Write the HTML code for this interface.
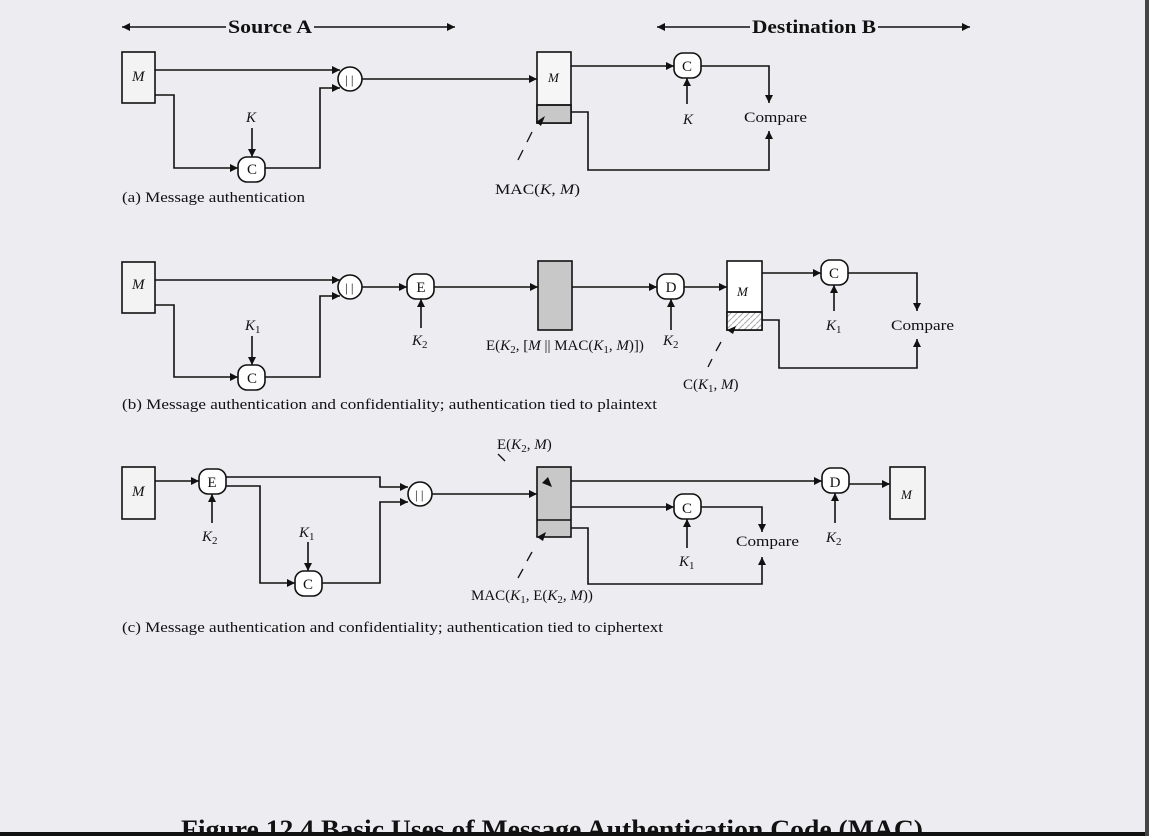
<!DOCTYPE html>
<html><head><meta charset="utf-8"><style>
html,body{margin:0;padding:0;background:#edecf0;overflow:hidden}
svg{display:block}
text{font-family:"Liberation Serif",serif;fill:#111}
.i{font-style:italic}
</style></head><body>
<svg width="1149" height="836" viewBox="0 0 1149 836" xmlns="http://www.w3.org/2000/svg">
<defs>
<marker id="a" viewBox="0 0 10 10" refX="10" refY="5" markerWidth="10" markerHeight="8" markerUnits="userSpaceOnUse" orient="auto-start-reverse"><path d="M0,0 L10,5 L0,10z" fill="#111"/></marker>
<pattern id="h" width="6" height="6" patternUnits="userSpaceOnUse"><rect width="6" height="6" fill="#fff"/><path d="M0,6 L6,0" stroke="#aaa" stroke-width="1"/></pattern>
</defs>
<rect width="1149" height="836" fill="#edecf0"/>
<g stroke="#111" stroke-width="1.6" fill="none">
<line x1="122" y1="27" x2="226" y2="27" marker-start="url(#a)"/>
<line x1="314" y1="27" x2="455" y2="27" marker-end="url(#a)"/>
<line x1="657" y1="27" x2="750" y2="27" marker-start="url(#a)"/>
<line x1="878" y1="27" x2="970" y2="27" marker-end="url(#a)"/>

<!-- (a) -->
<rect x="122" y="52" width="33" height="51" fill="#f3f3f3"/>
<line x1="155" y1="70" x2="340" y2="70" marker-end="url(#a)"/>
<polyline points="155,95 174,95 174,168 238,168" marker-end="url(#a)"/>
<line x1="252" y1="128" x2="252" y2="157" marker-end="url(#a)"/>
<rect x="238" y="157" width="27" height="25" rx="9" fill="#fff"/>
<polyline points="265,168 320,168 320,88 340,88" marker-end="url(#a)"/>
<circle cx="350" cy="79" r="12" fill="#fff"/>
<line x1="362" y1="79" x2="537" y2="79" marker-end="url(#a)"/>
<rect x="537" y="52" width="34" height="71" fill="#f6f6f6"/>
<rect x="537" y="105" width="34" height="18" fill="#c8c8c8"/>
<line x1="537" y1="105" x2="571" y2="105"/>
<line x1="571" y1="66" x2="674" y2="66" marker-end="url(#a)"/>
<rect x="674" y="53" width="27" height="25" rx="9" fill="#fff"/>
<line x1="687" y1="104" x2="687" y2="78" marker-end="url(#a)"/>
<polyline points="701,66 769,66 769,103" marker-end="url(#a)"/>
<polyline points="571,112 588,112 588,170 769,170 769,131" marker-end="url(#a)"/>
<line x1="518" y1="160" x2="523" y2="150" stroke-width="1.3"/>
<line x1="527" y1="142" x2="532" y2="132" stroke-width="1.3"/>
<path d="M536,122 L545,116 L541,126z" fill="#111" stroke="none"/>

<!-- (b) -->
<rect x="122" y="262" width="33" height="51" fill="#f3f3f3"/>
<line x1="155" y1="280" x2="340" y2="280" marker-end="url(#a)"/>
<polyline points="155,305 174,305 174,377 238,377" marker-end="url(#a)"/>
<line x1="252" y1="336" x2="252" y2="365" marker-end="url(#a)"/>
<rect x="238" y="365" width="27" height="25" rx="9" fill="#fff"/>
<polyline points="265,377 320,377 320,296 340,296" marker-end="url(#a)"/>
<circle cx="350" cy="287" r="12" fill="#fff"/>
<line x1="362" y1="287" x2="407" y2="287" marker-end="url(#a)"/>
<rect x="407" y="274" width="27" height="25" rx="9" fill="#fff"/>
<line x1="421" y1="328" x2="421" y2="299" marker-end="url(#a)"/>
<line x1="434" y1="287" x2="538" y2="287" marker-end="url(#a)"/>
<rect x="538" y="261" width="34" height="69" fill="#c8c8c8"/>
<line x1="572" y1="287" x2="657" y2="287" marker-end="url(#a)"/>
<rect x="657" y="274" width="27" height="25" rx="9" fill="#fff"/>
<line x1="671" y1="330" x2="671" y2="299" marker-end="url(#a)"/>
<line x1="684" y1="287" x2="727" y2="287" marker-end="url(#a)"/>
<rect x="727" y="261" width="35" height="69" fill="#fff"/>
<rect x="727" y="312" width="35" height="18" fill="url(#h)"/>
<line x1="727" y1="312" x2="762" y2="312"/>
<line x1="762" y1="273" x2="821" y2="273" marker-end="url(#a)"/>
<rect x="821" y="260" width="27" height="25" rx="9" fill="#fff"/>
<line x1="834" y1="311" x2="834" y2="285" marker-end="url(#a)"/>
<polyline points="848,273 917,273 917,311" marker-end="url(#a)"/>
<polyline points="762,320 779,320 779,368 917,368 917,339" marker-end="url(#a)"/>
<line x1="708" y1="367" x2="712" y2="359" stroke-width="1.3"/>
<line x1="716" y1="351" x2="721" y2="342" stroke-width="1.3"/>
<path d="M727,330 L736,326 L733,334z" fill="#111" stroke="none"/>

<!-- (c) -->
<rect x="122" y="467" width="33" height="52" fill="#f3f3f3"/>
<line x1="155" y1="481" x2="199" y2="481" marker-end="url(#a)"/>
<rect x="199" y="469" width="27" height="25" rx="9" fill="#fff"/>
<line x1="212" y1="523" x2="212" y2="494" marker-end="url(#a)"/>
<polyline points="226,477 380,477 380,487 408,487" marker-end="url(#a)"/>
<polyline points="226,486 260,486 260,583 295,583" marker-end="url(#a)"/>
<line x1="308" y1="542" x2="308" y2="571" marker-end="url(#a)"/>
<rect x="295" y="571" width="27" height="25" rx="9" fill="#fff"/>
<polyline points="322,583 380,583 380,502 408,502" marker-end="url(#a)"/>
<circle cx="420" cy="494" r="12" fill="#fff"/>
<line x1="432" y1="494" x2="537" y2="494" marker-end="url(#a)"/>
<rect x="537" y="467" width="34" height="70" fill="#c8c8c8"/>
<line x1="537" y1="520" x2="571" y2="520"/>
<line x1="571" y1="481" x2="822" y2="481" marker-end="url(#a)"/>
<rect x="822" y="468" width="27" height="25" rx="9" fill="#fff"/>
<line x1="835" y1="523" x2="835" y2="493" marker-end="url(#a)"/>
<line x1="849" y1="484" x2="890" y2="484" marker-end="url(#a)"/>
<rect x="890" y="467" width="35" height="52" fill="#f3f3f3"/>
<line x1="571" y1="507" x2="674" y2="507" marker-end="url(#a)"/>
<rect x="674" y="494" width="27" height="25" rx="9" fill="#fff"/>
<line x1="687" y1="548" x2="687" y2="519" marker-end="url(#a)"/>
<polyline points="701,507 762,507 762,532" marker-end="url(#a)"/>
<polyline points="571,528 588,528 588,584 762,584 762,557" marker-end="url(#a)"/>
<line x1="498" y1="454" x2="505" y2="461" stroke-width="1.3"/>
<path d="M552,487 L542,483 L548,477z" fill="#111" stroke="none"/>
<line x1="518" y1="578" x2="523" y2="569" stroke-width="1.3"/>
<line x1="527" y1="561" x2="532" y2="552" stroke-width="1.3"/>
<path d="M537,537 L546,532 L543,541z" fill="#111" stroke="none"/>
</g>

<text x="228" y="33" font-size="19" font-weight="bold" textLength="84" lengthAdjust="spacingAndGlyphs">Source A</text>
<text x="752" y="33" font-size="19" font-weight="bold" textLength="124" lengthAdjust="spacingAndGlyphs">Destination B</text>

<g font-size="15">
<!-- (a) -->
<text x="132" y="81" class="i">M</text>
<text x="252" y="174" text-anchor="middle">C</text>
<text x="246" y="122" class="i">K</text>
<text x="345" y="84" font-size="13">| |</text>
<text x="548" y="82" class="i" font-size="13">M</text>
<text x="687" y="71" text-anchor="middle">C</text>
<text x="683" y="124" class="i">K</text>
<text x="744" y="122" textLength="63" lengthAdjust="spacingAndGlyphs">Compare</text>
<text x="495" y="194" textLength="85" lengthAdjust="spacingAndGlyphs">MAC(<tspan class="i">K</tspan>, <tspan class="i">M</tspan>)</text>
<text x="122" y="202" textLength="183" lengthAdjust="spacingAndGlyphs">(a) Message authentication</text>

<!-- (b) -->
<text x="132" y="289" class="i">M</text>
<text x="245" y="330" class="i">K<tspan font-size="11" dy="3" font-style="normal">1</tspan></text>
<text x="252" y="383" text-anchor="middle">C</text>
<text x="345" y="292" font-size="13">| |</text>
<text x="421" y="292" text-anchor="middle">E</text>
<text x="412" y="345" class="i">K<tspan font-size="11" dy="3" font-style="normal">2</tspan></text>
<text x="671" y="292" text-anchor="middle">D</text>
<text x="663" y="345" class="i">K<tspan font-size="11" dy="3" font-style="normal">2</tspan></text>
<text x="486" y="350">E(<tspan class="i">K</tspan><tspan font-size="11" dy="3">2</tspan><tspan dy="-3">, [</tspan><tspan class="i">M</tspan> || MAC(<tspan class="i">K</tspan><tspan font-size="11" dy="3">1</tspan><tspan dy="-3">, </tspan><tspan class="i">M</tspan>)])</text>
<text x="737" y="296" class="i" font-size="13">M</text>
<text x="834" y="278" text-anchor="middle">C</text>
<text x="826" y="330" class="i">K<tspan font-size="11" dy="3" font-style="normal">1</tspan></text>
<text x="891" y="330" textLength="63" lengthAdjust="spacingAndGlyphs">Compare</text>
<text x="683" y="389">C(<tspan class="i">K</tspan><tspan font-size="11" dy="3">1</tspan><tspan dy="-3">, </tspan><tspan class="i">M</tspan>)</text>
<text x="122" y="409" textLength="535" lengthAdjust="spacingAndGlyphs">(b) Message authentication and confidentiality; authentication tied to plaintext</text>

<!-- (c) -->
<text x="132" y="496" class="i">M</text>
<text x="212" y="487" text-anchor="middle">E</text>
<text x="202" y="541" class="i">K<tspan font-size="11" dy="3" font-style="normal">2</tspan></text>
<text x="299" y="537" class="i">K<tspan font-size="11" dy="3" font-style="normal">1</tspan></text>
<text x="308" y="589" text-anchor="middle">C</text>
<text x="415" y="499" font-size="13">| |</text>
<text x="497" y="449">E(<tspan class="i">K</tspan><tspan font-size="11" dy="3">2</tspan><tspan dy="-3">, </tspan><tspan class="i">M</tspan>)</text>
<text x="835" y="487" text-anchor="middle">D</text>
<text x="826" y="542" class="i">K<tspan font-size="11" dy="3" font-style="normal">2</tspan></text>
<text x="901" y="499" class="i" font-size="13">M</text>
<text x="687" y="513" text-anchor="middle">C</text>
<text x="679" y="566" class="i">K<tspan font-size="11" dy="3" font-style="normal">1</tspan></text>
<text x="736" y="546" textLength="63" lengthAdjust="spacingAndGlyphs">Compare</text>
<text x="471" y="600">MAC(<tspan class="i">K</tspan><tspan font-size="11" dy="3">1</tspan><tspan dy="-3">, E(</tspan><tspan class="i">K</tspan><tspan font-size="11" dy="3">2</tspan><tspan dy="-3">, </tspan><tspan class="i">M</tspan>))</text>
<text x="122" y="632" textLength="541" lengthAdjust="spacingAndGlyphs">(c) Message authentication and confidentiality; authentication tied to ciphertext</text>
</g>

<text x="181" y="838" font-size="26" font-weight="bold" textLength="742" lengthAdjust="spacingAndGlyphs">Figure 12.4  Basic Uses of Message Authentication Code (MAC)</text>
<rect x="0" y="832" width="1149" height="4" fill="#111"/>
<rect x="1145" y="0" width="4" height="836" fill="#444"/>
</svg>
</body></html>
